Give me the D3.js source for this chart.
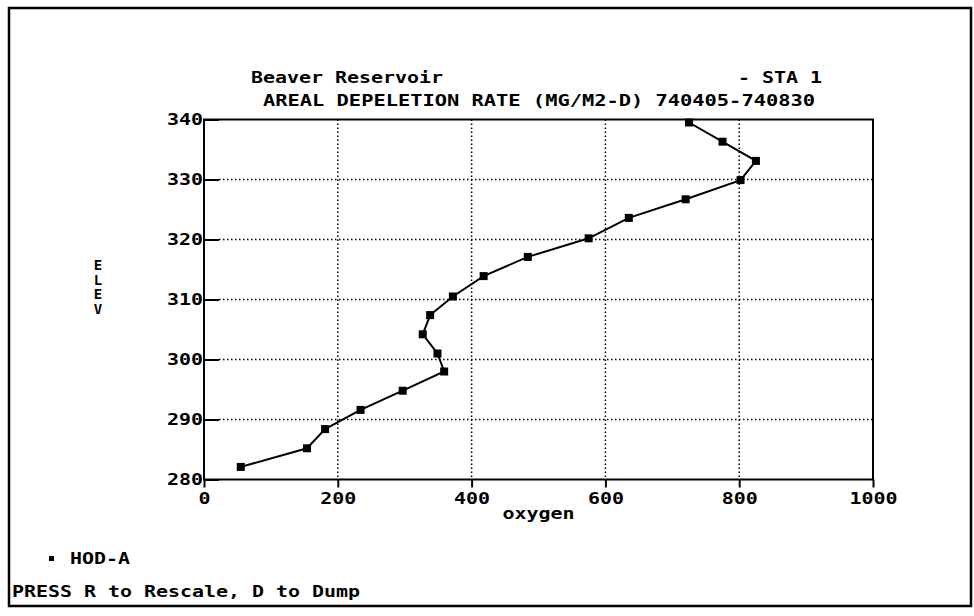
<!DOCTYPE html>
<html><head><meta charset="utf-8">
<script src="https://cdn.jsdelivr.net/npm/d3@7"></script>
<style>
html,body{margin:0;padding:0;background:#fff;}
svg text{font-family:"DejaVu Sans Mono","Liberation Mono",monospace;font-weight:bold;font-size:16px;fill:#000;}
</style></head>
<body>
<svg id="chart" width="974" height="616"></svg>
<script>
// ---- data ----
const oxygen = [725, 775, 825, 802, 720, 635, 575, 484, 418, 372, 338, 327, 349, 359, 297, 234, 181, 154, 55];
const elev   = [339.5, 336.3, 333.1, 329.9, 326.7, 323.6, 320.2, 317.1, 313.9, 310.5, 307.4, 304.2, 301.0, 298.0, 294.8, 291.6, 288.4, 285.2, 282.1];
const xTicks = [0, 200, 400, 600, 800, 1000];
const yTicks = [280, 290, 300, 310, 320, 330, 340];
const titleLeft = "Beaver Reservoir";
const titleRight = "- STA 1";
const subtitle = "AREAL DEPELETION RATE (MG/M2-D)  740405-740830";
const xLabel = "oxygen";
const yLabel = "ELEV";
const seriesName = "HOD-A";
const footer = "PRESS R to Rescale, D to Dump";

const CW = 12; // character cell width
const svg = d3.select("#chart");
const x = d3.scaleLinear().domain([0, 1000]).range([204, 873]);
const y = d3.scaleLinear().domain([280, 340]).range([479.5, 119.5]);

function fit(sel){
  sel.attr("textLength", function(){ return this.textContent.length * CW; })
     .attr("lengthAdjust", "spacingAndGlyphs");
}

// outer frame
svg.append("rect").attr("x", 9).attr("y", 8).attr("width", 962).attr("height", 598)
  .attr("fill", "none").attr("stroke", "#000").attr("stroke-width", 2.5);

// grid
const g = svg.append("g");
g.selectAll(".hg").data(yTicks.filter(d => d > 280 && d < 340)).join("line")
  .attr("x1", x(0) + 15).attr("x2", x(1000)).attr("y1", d => y(d)).attr("y2", d => y(d))
  .attr("stroke", "#000").attr("stroke-width", 1.5).attr("stroke-dasharray", "1.5,2.5");
g.selectAll(".vg").data(xTicks.filter(d => d > 0 && d < 1000)).join("line")
  .attr("x1", d => x(d)).attr("x2", d => x(d)).attr("y1", y(340)).attr("y2", y(280))
  .attr("stroke", "#000").attr("stroke-width", 1.5).attr("stroke-dasharray", "1.5,2.5");

// axes
const xAxis = svg.append("g").attr("transform", `translate(0,${y(280)})`)
  .call(d3.axisBottom(x).tickValues(xTicks).tickSize(8).tickPadding(1).tickFormat(d3.format("d")));
const yAxis = svg.append("g").attr("transform", `translate(${x(0)},0)`)
  .call(d3.axisLeft(y).tickValues(yTicks).tickSize(-15).tickPadding(1).tickFormat(d3.format("d")));
[xAxis, yAxis].forEach(a => {
  a.select(".domain").remove();
  a.selectAll("line").attr("stroke", "#000").attr("stroke-width", 2);
  a.selectAll("text").attr("font-family", null).attr("font-size", null).call(fit);
});
xAxis.selectAll("text").attr("dy", "0.95em");
// plot frame
svg.append("rect").attr("x", x(0)).attr("y", y(340)).attr("width", x(1000) - x(0)).attr("height", y(280) - y(340))
  .attr("fill", "none").attr("stroke", "#000").attr("stroke-width", 2);

// series
const pts = oxygen.map((v, i) => [v, elev[i]]);
svg.append("path").datum(pts)
  .attr("d", d3.line().x(d => x(d[0])).y(d => y(d[1])))
  .attr("fill", "none").attr("stroke", "#000").attr("stroke-width", 2);
svg.selectAll(".pt").data(pts).join("rect")
  .attr("x", d => x(d[0]) - 4).attr("y", d => y(d[1]) - 4)
  .attr("width", 8).attr("height", 8).attr("fill", "#000");

// titles
svg.append("text").attr("x", 251).attr("y", 83).text(titleLeft).call(fit);
svg.append("text").attr("x", 822).attr("y", 83).attr("text-anchor", "end").text(titleRight).call(fit);
svg.append("text").attr("x", 263).attr("y", 106).text(subtitle).call(fit);

// axis labels
svg.append("text").attr("x", (x(0) + x(1000)) / 2).attr("y", 519).attr("text-anchor", "middle").text(xLabel).call(fit);
const yl = svg.append("text").attr("text-anchor", "middle").style("font-size", "14px");
yl.selectAll("tspan").data(yLabel.split("")).join("tspan")
  .attr("x", 98).attr("y", (d, i) => 270 + i * 14.5).text(d => d);

// legend
svg.append("rect").attr("x", 49).attr("y", 556).attr("width", 5).attr("height", 5).attr("fill", "#000");
svg.append("text").attr("x", 70).attr("y", 564).text(seriesName).call(fit);

// footer
svg.append("text").attr("x", 12).attr("y", 597).text(footer).call(fit);
</script>
</body></html>
